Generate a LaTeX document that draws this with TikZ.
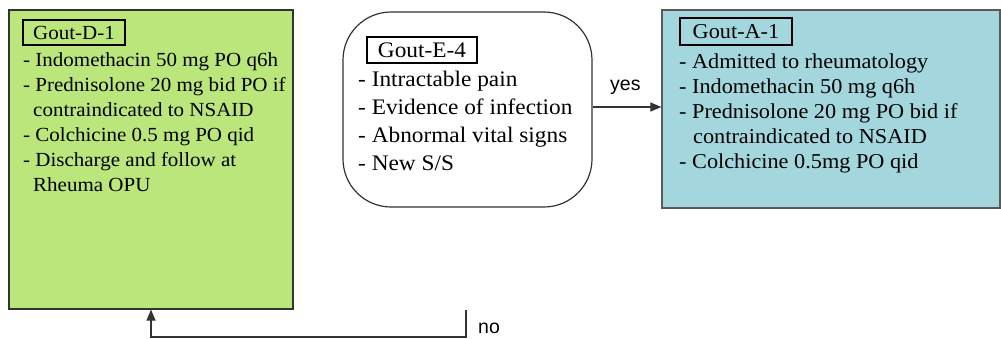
\documentclass[tikz,border=0pt]{standalone}
\usepackage{fontspec}
\setmainfont{Liberation Serif}[FakeStretch=1.05]
\newfontfamily\labelfont{Liberation Sans}
\usetikzlibrary{arrows.meta}
\definecolor{dgreen}{HTML}{BBE67B}
\definecolor{dblue}{HTML}{A3D7DD}
\definecolor{edge}{HTML}{333333}
\begin{document}
\begin{tikzpicture}[x=1pt,y=-1pt,
  box/.style={draw=edge, line width=1.2pt, inner sep=0pt},
  titlebox/.style={draw=black, line width=1.1pt, inner sep=0pt},
  txt/.style={anchor=base west, inner sep=0pt},
  dfont/.style={font=\fontsize{20}{24}\selectfont},
  afont/.style={font=\fontsize{21.2}{24}\selectfont},
  efont/.style={font=\fontsize{22.2}{26}\selectfont},
  lbl/.style={anchor=base west, inner sep=0pt, font=\labelfont\fontsize{19.5}{22}\selectfont},
  conn/.style={draw=black!80, line width=1.1pt},
  arr/.style={conn, -{Triangle[length=11pt,width=9pt]}}]
\useasboundingbox (0,0) rectangle (1001,338);
% boxes
\node[box, fill=dgreen, minimum width=284pt, minimum height=299pt] (d) at (151,159.5) {};
\node[box, fill=white, rounded corners=48pt, minimum width=249pt, minimum height=195pt] (e) at (467.5,109.5) {};
\node[box, draw=black!65, fill=dblue, minimum width=338pt, minimum height=198pt] (a) at (831,109) {};
% Gout-D-1
\node[titlebox, dfont, minimum width=102pt, minimum height=25pt] (dt) at (74,32.5) {Gout-D-1};
\node[txt, dfont] (d1) at (23,66) {- Indomethacin 50 mg PO q6h};
\node[txt, dfont] (d2) at (23,91) {- Prednisolone 20 mg bid PO if};
\node[txt, dfont] (d3) at (33,116) {contraindicated to NSAID};
\node[txt, dfont] (d4) at (23,141) {- Colchicine 0.5 mg PO qid};
\node[txt, dfont] (d5) at (23,166) {- Discharge and follow at};
\node[txt, dfont] (d6) at (33,191) {Rheuma OPU};
% Gout-E-4
\node[titlebox, efont, minimum width=110pt, minimum height=26pt] (et) at (422,50) {Gout-E-4};
\node[txt, efont] (e1) at (358,86) {- Intractable pain};
\node[txt, efont] (e2) at (358,114) {- Evidence of infection};
\node[txt, efont] (e3) at (358,142) {- Abnormal vital signs};
\node[txt, efont] (e4) at (358,170) {- New S/S};
% Gout-A-1
\node[titlebox, afont, minimum width=112pt, minimum height=27pt] (at) at (736,31.5) {Gout-A-1};
\node[txt, afont] (a1) at (679,68) {- Admitted to rheumatology};
\node[txt, afont] (a2) at (679,93) {- Indomethacin 50 mg q6h};
\node[txt, afont] (a3) at (679,118) {- Prednisolone 20 mg PO bid if};
\node[txt, afont] (a4) at (693,143) {contraindicated to NSAID};
\node[txt, afont] (a5) at (679,168) {- Colchicine 0.5mg PO qid};
% connectors
\draw[arr] ([yshift=2.5pt]e.east) -- ([yshift=2.5pt]e.east -| a.west);
\node[lbl] (yes) at (610,90) {yes};
\coordinate (nostart) at (466,310);
\coordinate (nocorner) at (466,337);
\draw[arr] (nostart) -- (nocorner) -| (d.south);
\node[lbl] (no) at (478,333) {no};
\end{tikzpicture}
\end{document}
